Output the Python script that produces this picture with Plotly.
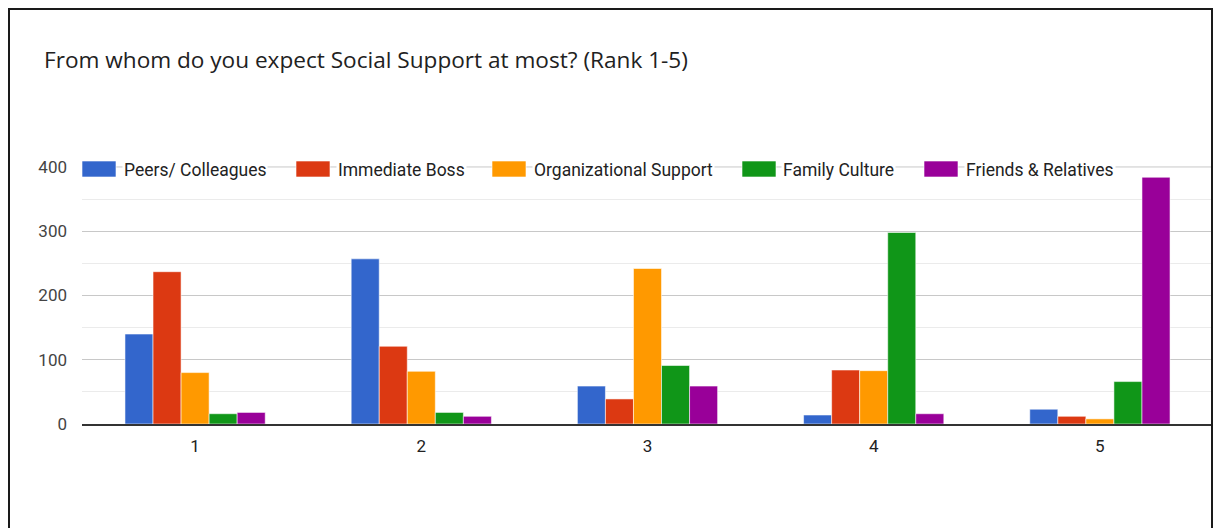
import plotly.graph_objects as go

categories = ["1", "2", "3", "4", "5"]
series_names = ["Peers/ Colleagues", "Immediate Boss", "Organizational Support", "Family Culture", "Friends & Relatives"]
peers = [140, 257, 59, 14, 23]
boss = [237, 121, 39, 84, 12]
org = [80, 82, 242, 83, 8]
family = [16, 18, 91, 298, 66]
friends = [18, 12, 59, 16, 384]
colors = ["#3366cc", "#dc3912", "#ff9900", "#109618", "#990099"]
title_text = "From whom do you expect Social Support at most? (Rank 1-5)"

W, H = 1214, 528
L, R, T, B = 82, 1213, 166, 424
YMAX = 401.5
FONT = "Roboto, Arial, sans-serif"

def px2x(px):
    return (px - L) / (R - L)

def px2y(py):
    return (B - py) / (B - T)

fig = go.Figure()
for name, vals, col in zip(series_names, [peers, boss, org, family, friends], colors):
    fig.add_trace(go.Bar(
        x=categories, y=vals, name=name, showlegend=False,
        marker=dict(color=col, line=dict(color="rgba(255,255,255,0.55)", width=1)),
    ))

shapes = []
annotations = []

# top gridline (400) explicitly, so it shows through the legend gaps
shapes.append(dict(type="line", xref="paper", yref="y", x0=0, x1=1, y0=400, y1=400,
                   line=dict(color="#c8c8c8", width=1), layer="below"))

# manual legend (Google-charts style wide swatches)
legend_pos = [(82, 124), (296, 338), (492, 534), (742, 783), (924, 966)]
for (sx, tx), name, col in zip(legend_pos, series_names, colors):
    shapes.append(dict(type="rect", xref="paper", yref="paper",
                       x0=px2x(sx), x1=px2x(sx + 34), y0=px2y(177), y1=px2y(161),
                       fillcolor=col, line=dict(color="rgba(255,255,255,0.6)", width=1), layer="above"))
    annotations.append(dict(text=name, xref="paper", yref="paper", x=px2x(tx - 2), y=px2y(170),
                            xanchor="left", yanchor="middle", showarrow=False,
                            bgcolor="white", borderpad=1,
                            font=dict(family=FONT, size=17.5, color="#222222")))

# outer frame
shapes.append(dict(type="rect", xref="paper", yref="paper",
                   x0=px2x(9), x1=px2x(1212), y0=px2y(560), y1=px2y(9),
                   line=dict(color="#1a1a1a", width=2), fillcolor="rgba(0,0,0,0)", layer="above"))

fig.update_layout(
    width=W, height=H,
    margin=dict(l=L, r=W - R, t=T, b=H - B),
    paper_bgcolor="white", plot_bgcolor="white",
    barmode="group", bargap=0.38, bargroupgap=0,
    font=dict(family=FONT, size=17, color="#444444"),
    title=dict(text=title_text, x=44 / W, xanchor="left", y=1 - 60 / H, yanchor="middle",
               font=dict(family="Open Sans, sans-serif", size=22.6, color="#212121")),
    shapes=shapes, annotations=annotations,
    showlegend=False,
)
fig.update_yaxes(range=[0, YMAX], tickvals=[0, 100, 200, 300, 400], showgrid=True, gridcolor="#c8c8c8", gridwidth=1,
                 minor=dict(tickvals=[50, 150, 250, 350], showgrid=True, gridcolor="#ebebeb", gridwidth=1),
                 zeroline=False, showline=False, ticks="", ticklabelstandoff=14,
                 tickfont=dict(family=FONT, size=17, color="#444444"), fixedrange=True)
fig.update_xaxes(type="category", showline=True, linecolor="#333333", linewidth=2,
                 showgrid=False, ticks="", ticklabelstandoff=6,
                 tickfont=dict(family=FONT, size=17, color="#222222"), fixedrange=True)

fig.write_html("out.html", config={"displayModeBar": False})
